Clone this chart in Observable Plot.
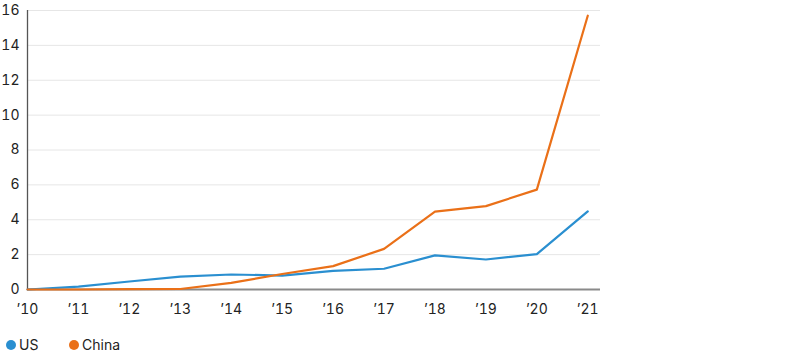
<!DOCTYPE html>
<html>
<head>
<meta charset="utf-8">
<script src="https://cdn.jsdelivr.net/npm/d3@7"></script>
<script src="https://cdn.jsdelivr.net/npm/@observablehq/plot@0.6"></script>
<style>
  body { margin: 0; background: #fff; font-family: "Inter", "Liberation Sans", sans-serif; }
  #wrap { position: relative; width: 800px; height: 356px; }
  #legend { position: absolute; left: 6px; top: 336px; display: flex; font-size: 14px; color: #222; }
  .item { display: flex; align-items: center; }
  .dot { width: 10px; height: 10px; border-radius: 50%; margin-right: 3px; }
</style>
</head>
<body>
<div id="wrap"><div id="chart"></div><div id="legend"></div></div>
<script>
const years = [2010, 2011, 2012, 2013, 2014, 2015, 2016, 2017, 2018, 2019, 2020, 2021];
const us    = [0, 0.17, 0.46, 0.74, 0.86, 0.80, 1.07, 1.19, 1.96, 1.72, 2.03, 4.48];
const china = [0, 0.0, 0.02, 0.03, 0.38, 0.89, 1.34, 2.33, 4.47, 4.78, 5.73, 15.7];
const seriesNames = ["US", "China"];
const seriesColors = ["#2a8fd0", "#ea7018"];
const yTicks = [0, 2, 4, 6, 8, 10, 12, 14, 16];

const data = [];
years.forEach((y, i) => {
  data.push({year: y, value: us[i], series: "US"});
  data.push({year: y, value: china[i], series: "China"});
});

const fmt = d => "’" + String(d).slice(2);

const chart = Plot.plot({
  width: 800,
  height: 326,
  marginLeft: 27,
  marginRight: 200,
  marginTop: 10,
  marginBottom: 37,
  style: { fontFamily: "Inter, 'Liberation Sans', sans-serif", fontSize: "14px", color: "#222" },
  x: { domain: [2010, 2021.25], label: null },
  y: { domain: [0, 16], label: null },
  color: { domain: seriesNames, range: seriesColors },
  marks: [
    Plot.gridY(yTicks.filter(d => d > 0), { stroke: "#e6e6e6", strokeOpacity: 1, strokeWidth: 1 }),
    Plot.axisX({ ticks: years, tickFormat: fmt, tickSize: 0, tickPadding: 15, fill: "#222", fontSize: 14 }),
    Plot.axisY({ ticks: yTicks, tickSize: 0, tickPadding: 8, fill: "#222", fontSize: 14 }),
    Plot.ruleY([0], { stroke: "#8a8a8a", strokeWidth: 2.2 }),
    Plot.ruleX([2010], { stroke: "#555", strokeWidth: 1.3 }),
    Plot.line(data, { x: "year", y: "value", z: "series", stroke: "series", strokeWidth: 2.2 })
  ]
});
document.getElementById("chart").appendChild(chart);

const legend = document.getElementById("legend");
seriesNames.forEach((n, i) => {
  const it = document.createElement("div");
  it.className = "item";
  it.style.width = i === 0 ? "63px" : "auto";
  it.innerHTML = `<span class="dot" style="background:${seriesColors[i]}"></span><span>${n}</span>`;
  legend.appendChild(it);
});
</script>
</body>
</html>
